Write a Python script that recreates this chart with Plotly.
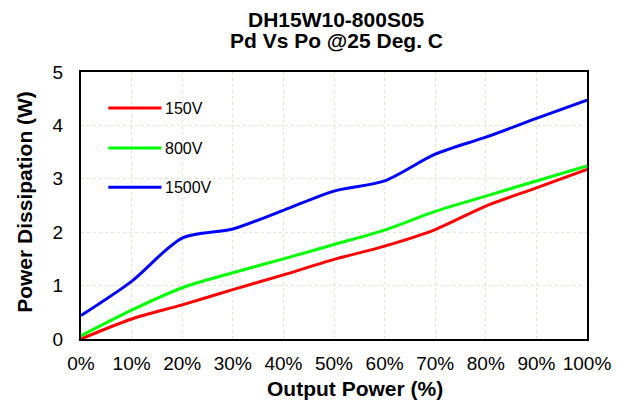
import plotly.graph_objects as go

# ---- data ----
output_pct = [0, 10, 20, 30, 40, 50, 60, 70, 80, 90, 100]
pd_150v = [0.00, 0.375, 0.64, 0.925, 1.20, 1.49, 1.74, 2.05, 2.49, 2.83, 3.175]
pd_800v = [0.06, 0.54, 0.96, 1.24, 1.50, 1.77, 2.04, 2.39, 2.675, 2.96, 3.24]
pd_1500v = [0.44, 1.08, 1.89, 2.06, 2.41, 2.77, 2.96, 3.46, 3.78, 4.13, 4.475]
series_names = ["150V", "800V", "1500V"]
series_colors = ["#ff0000", "#00ff00", "#0000ff"]
x_ticks = [0, 10, 20, 30, 40, 50, 60, 70, 80, 90, 100]
x_tick_labels = ["0%", "10%", "20%", "30%", "40%", "50%", "60%", "70%", "80%", "90%", "100%"]
y_ticks = [0, 1, 2, 3, 4, 5]
title_lines = ["DH15W10-800S05", "Pd Vs Po @25 Deg. C"]
x_title = "Output Power (%)"
y_title = "Power Dissipation (W)"

FONT = "Arial, 'Liberation Sans', sans-serif"

fig = go.Figure()
for name, ys, col in zip(series_names, [pd_150v, pd_800v, pd_1500v], series_colors):
    fig.add_trace(go.Scatter(
        x=output_pct, y=ys, name=name, mode="lines",
        line=dict(color=col, width=3, shape="spline", smoothing=0.8),
        showlegend=False,
    ))

# manual legend (long swatches like the reference)
leg_x0, leg_x1, leg_tx = 0.054, 0.159, 0.1626
leg_rows = [0.865, 0.715, 0.568]
for name, col, yy in zip(series_names, series_colors, leg_rows):
    fig.add_shape(type="line", xref="paper", yref="paper",
                  x0=leg_x0, x1=leg_x1, y0=yy, y1=yy,
                  line=dict(color=col, width=3))
    fig.add_annotation(xref="paper", yref="paper", x=leg_tx, y=yy,
                       text=name, showarrow=False, xanchor="left", yanchor="middle",
                       font=dict(family=FONT, size=16, color="black"))

# chart title: two tightly spaced lines
for txt, yy in zip(title_lines, [1.196, 1.119]):
    fig.add_annotation(xref="paper", yref="paper", x=0.504, y=yy,
                       text=txt, showarrow=False,
                       xanchor="center", yanchor="middle",
                       font=dict(family=FONT, size=21, color="black", weight=700))

# axis titles
fig.add_annotation(xref="paper", yref="paper", x=0.541, y=-0.186,
                   text=x_title, showarrow=False,
                   xanchor="center", yanchor="middle",
                   font=dict(family=FONT, size=21, color="black", weight=700))
fig.add_annotation(xref="paper", yref="paper", x=-0.112, y=0.515,
                   text=y_title, showarrow=False, textangle=-90,
                   xanchor="center", yanchor="middle",
                   font=dict(family=FONT, size=21, color="black", weight=700))

grid = "#e4e4d6"
fig.update_layout(
    width=622, height=405,
    margin=dict(l=80.7, r=35.3, t=72.3, b=65.7),
    paper_bgcolor="white", plot_bgcolor="white",
    font=dict(family=FONT, color="black", size=19),
    xaxis=dict(range=[0, 100], tickmode="array", tickvals=x_ticks, ticktext=x_tick_labels,
               showgrid=True, gridcolor=grid, griddash="dot", gridwidth=1,
               showline=True, linecolor="black", linewidth=2, mirror=True,
               ticks="", zeroline=False, ticklabelstandoff=6,
               tickfont=dict(family=FONT, size=19, color="black")),
    yaxis=dict(range=[0, 5], tickvals=y_ticks,
               showgrid=True, gridcolor=grid, griddash="dot", gridwidth=1,
               showline=True, linecolor="black", linewidth=2, mirror=True,
               ticks="", zeroline=False, ticklabelstandoff=12,
               tickfont=dict(family=FONT, size=19, color="black")),
)

fig.write_html("out.html", config={"displayModeBar": False},
               post_script="document.body.style.margin='0px';")
